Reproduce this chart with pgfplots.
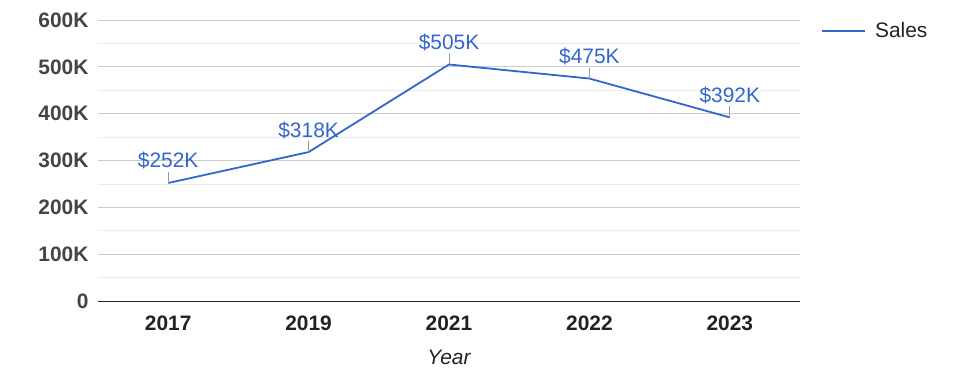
\documentclass[border=0pt]{standalone}
\usepackage{fontspec}
\setmainfont{Liberation Sans}
\usepackage{pgfplots}
\pgfplotsset{compat=1.18}
\definecolor{sales}{HTML}{3366CC}
\definecolor{gridc}{HTML}{CCCCCC}
\definecolor{mgridc}{HTML}{EBEBEB}
\definecolor{txt}{HTML}{222222}
\definecolor{ytxt}{HTML}{444444}
\definecolor{tickc}{HTML}{999999}
\pgfdeclareplotmark{vtick}{\pgfpathmoveto{\pgfpointorigin}\pgfpathlineto{\pgfpoint{0pt}{11bp}}\pgfusepathqstroke}
\begin{document}
\begin{tikzpicture}
\useasboundingbox (0,0) rectangle (975bp,378bp);
\begin{axis}[at={(98bp,77bp)}, anchor=south west, scale only axis,
  width=702bp, height=281bp,
  xmin=-0.5, xmax=4.5, ymin=0, ymax=600,
  xtick={0,...,4}, xticklabels={2017,2019,2021,2022,2023},
  ytick={0,100,...,600}, yticklabels={0,100K,200K,300K,400K,500K,600K},
  minor ytick={50,150,...,550},
  ymajorgrids, yminorgrids,
  major grid style={gridc, line width=0.8bp},
  minor grid style={mgridc, line width=0.8bp},
  axis x line*=bottom, axis y line*=left,
  y axis line style={draw=none},
  x axis line style={draw=txt, line width=0.8bp, -},
  major tick length=0pt, minor tick length=0pt,
  xticklabel style={font=\bfseries\fontsize{21}{24}\selectfont, text=txt, yshift=-11bp},
  yticklabel style={font=\bfseries\fontsize{21}{24}\selectfont, text=ytxt, xshift=-6bp},
  xlabel={Year}, xlabel style={font=\itshape\fontsize{21}{24}\selectfont, text=txt, yshift=-13bp},
  /pgf/number format/assume math mode=true,
  legend style={at={(1,1)}, anchor=north west, xshift=18bp, yshift=2bp, draw=none, fill=none,
    font=\fontsize{21}{24}\selectfont, text=txt},
  legend image code/.code={\draw[sales, line width=2bp] (0bp,0bp) -- (43bp,0bp); \path (50bp,0bp);},
  clip=false,
]
\addplot[sales, line width=1.8bp, mark=none,
  nodes near coords={\$\pgfmathprintnumber[fixed,precision=0]{\pgfplotspointmeta}K},
  point meta=y,
  every node near coord/.append style={anchor=base, yshift=15bp, inner sep=0pt,
    font=\fontsize{21}{24}\selectfont, text=sales}]
  coordinates {(0,252) (1,318) (2,505) (3,475) (4,392)};
\addlegendentry{Sales}
\addplot[forget plot, only marks, mark=vtick, mark options={draw=tickc, line width=0.8bp}]
  coordinates {(0,252) (1,318) (2,505) (3,475) (4,392)};
\end{axis}
\end{tikzpicture}
\end{document}
